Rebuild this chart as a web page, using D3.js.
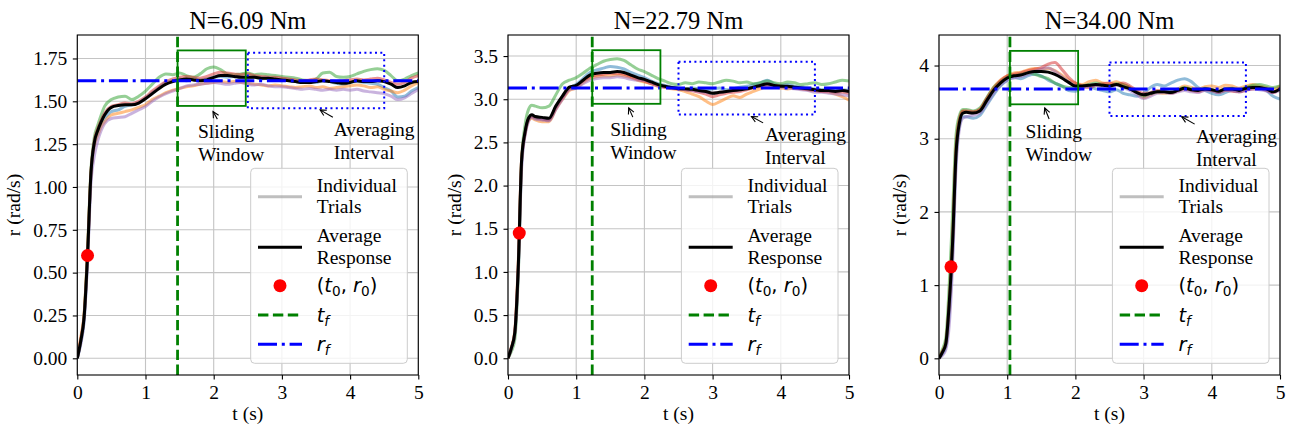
<!DOCTYPE html>
<meta charset="utf-8">
<style>
body { margin: 0; background: #fff; }
svg text { font-family: "Liberation Serif", "Times New Roman", serif; fill: #000; }
.math { font-family: "DejaVu Sans", sans-serif; }
</style>
<svg width="1290" height="430"></svg>
<script src="https://d3js.org/d3.v7.min.js"></script>
<script>

// time grid shared by every trace (s)
var T = [0, 0.05, 0.1, 0.15, 0.2, 0.25, 0.3, 0.35, 0.4,
  0.5, 0.6, 0.7, 0.8, 0.9, 1.0, 1.1, 1.2, 1.3, 1.4,
  1.5, 1.6, 1.7, 1.8, 1.9, 2.0, 2.1, 2.2, 2.3, 2.4,
  2.5, 2.6, 2.7, 2.8, 2.9, 3.0, 3.1, 3.2, 3.3, 3.4,
  3.5, 3.6, 3.7, 3.8, 3.9, 4.0, 4.1, 4.2, 4.3, 4.4,
  4.5, 4.6, 4.7, 4.8, 4.9, 5.0];

// N = 6.09 Nm
var p1_avg = [0.00, 0.10, 0.24, 0.60, 1.08, 1.26, 1.33, 1.38, 1.42,
  1.465, 1.475, 1.48, 1.48, 1.49, 1.515, 1.545, 1.575, 1.60, 1.615,
  1.625, 1.63, 1.625, 1.62, 1.625, 1.64, 1.65, 1.65, 1.645, 1.64,
  1.64, 1.64, 1.635, 1.635, 1.63, 1.625, 1.62, 1.615, 1.61, 1.61,
  1.615, 1.62, 1.615, 1.61, 1.605, 1.61, 1.62, 1.615, 1.615, 1.62,
  1.615, 1.60, 1.58, 1.59, 1.61, 1.615];
var p1_blue = [0.00, 0.09, 0.22, 0.58, 1.06, 1.25, 1.32, 1.37, 1.40,
  1.44, 1.45, 1.47, 1.48, 1.49, 1.52, 1.55, 1.58, 1.61, 1.62,
  1.63, 1.62, 1.63, 1.625, 1.63, 1.64, 1.645, 1.64, 1.645, 1.64,
  1.635, 1.64, 1.63, 1.635, 1.625, 1.62, 1.625, 1.615, 1.61, 1.615,
  1.61, 1.62, 1.615, 1.605, 1.60, 1.61, 1.615, 1.61, 1.605, 1.60,
  1.58, 1.56, 1.525, 1.53, 1.56, 1.58];
var p1_orange = [0.01, 0.12, 0.26, 0.62, 1.08, 1.24, 1.30, 1.35, 1.38,
  1.42, 1.43, 1.44, 1.45, 1.465, 1.48, 1.51, 1.53, 1.55, 1.565,
  1.575, 1.585, 1.59, 1.60, 1.605, 1.61, 1.615, 1.61, 1.615, 1.61,
  1.605, 1.60, 1.595, 1.59, 1.595, 1.59, 1.585, 1.58, 1.585, 1.59,
  1.58, 1.585, 1.575, 1.58, 1.585, 1.59, 1.595, 1.59, 1.58, 1.585,
  1.57, 1.56, 1.55, 1.565, 1.59, 1.61];
var p1_green = [0.00, 0.10, 0.25, 0.63, 1.10, 1.29, 1.36, 1.42, 1.47,
  1.51, 1.525, 1.53, 1.51, 1.53, 1.56, 1.60, 1.64, 1.66, 1.655,
  1.665, 1.65, 1.64, 1.66, 1.69, 1.70, 1.685, 1.66, 1.655, 1.66,
  1.665, 1.655, 1.66, 1.655, 1.65, 1.645, 1.64, 1.635, 1.625, 1.62,
  1.63, 1.665, 1.67, 1.645, 1.64, 1.645, 1.66, 1.675, 1.685, 1.69,
  1.68, 1.65, 1.62, 1.63, 1.65, 1.665];
var p1_red = [0.00, 0.11, 0.25, 0.61, 1.08, 1.27, 1.34, 1.39, 1.43,
  1.47, 1.48, 1.49, 1.485, 1.50, 1.525, 1.56, 1.59, 1.615, 1.63,
  1.64, 1.645, 1.64, 1.635, 1.645, 1.66, 1.67, 1.665, 1.66, 1.655,
  1.66, 1.65, 1.645, 1.64, 1.64, 1.635, 1.63, 1.625, 1.62, 1.625,
  1.63, 1.625, 1.62, 1.615, 1.62, 1.625, 1.63, 1.625, 1.63, 1.635,
  1.625, 1.61, 1.60, 1.61, 1.635, 1.65];
var p1_purple = [0.00, 0.08, 0.22, 0.56, 1.02, 1.18, 1.27, 1.33, 1.37,
  1.40, 1.405, 1.41, 1.43, 1.45, 1.47, 1.50, 1.525, 1.545, 1.56,
  1.575, 1.59, 1.595, 1.60, 1.605, 1.61, 1.605, 1.60, 1.605, 1.61,
  1.60, 1.595, 1.60, 1.59, 1.585, 1.585, 1.58, 1.575, 1.57, 1.575,
  1.57, 1.565, 1.57, 1.565, 1.57, 1.565, 1.57, 1.56, 1.555, 1.55,
  1.545, 1.53, 1.51, 1.52, 1.545, 1.57];

// N = 22.79 Nm
var p2_avg = [0.00, 0.12, 0.30, 1.05, 2.30, 2.62, 2.78, 2.82, 2.80,
  2.79, 2.78, 2.92, 3.04, 3.14, 3.16, 3.22, 3.28, 3.30, 3.31,
  3.31, 3.32, 3.31, 3.28, 3.25, 3.23, 3.20, 3.17, 3.15, 3.135,
  3.125, 3.12, 3.115, 3.10, 3.09, 3.07, 3.08, 3.09, 3.10, 3.11,
  3.12, 3.14, 3.16, 3.18, 3.16, 3.15, 3.15, 3.14, 3.13, 3.12,
  3.11, 3.10, 3.10, 3.09, 3.10, 3.09];
var p2_blue = [0.00, 0.12, 0.28, 1.00, 2.25, 2.60, 2.76, 2.80, 2.78,
  2.77, 2.76, 2.90, 3.03, 3.13, 3.17, 3.24, 3.31, 3.34, 3.36,
  3.38, 3.37, 3.35, 3.31, 3.28, 3.25, 3.21, 3.18, 3.16, 3.14,
  3.13, 3.12, 3.13, 3.12, 3.11, 3.12, 3.13, 3.11, 3.12, 3.14,
  3.15, 3.17, 3.19, 3.22, 3.18, 3.16, 3.17, 3.15, 3.14, 3.13,
  3.12, 3.11, 3.12, 3.10, 3.11, 3.10];
var p2_orange = [0.00, 0.13, 0.32, 1.10, 2.30, 2.60, 2.75, 2.78, 2.76,
  2.74, 2.74, 2.88, 3.00, 3.10, 3.13, 3.19, 3.24, 3.26, 3.27,
  3.27, 3.28, 3.27, 3.25, 3.22, 3.20, 3.18, 3.16, 3.14, 3.12,
  3.11, 3.09, 3.06, 3.03, 2.98, 2.94, 2.97, 3.01, 3.04, 3.02,
  3.06, 3.09, 3.12, 3.15, 3.14, 3.13, 3.12, 3.13, 3.12, 3.11,
  3.10, 3.09, 3.08, 3.06, 3.03, 2.99];
var p2_green = [0.00, 0.08, 0.22, 0.95, 2.30, 2.70, 2.88, 2.93, 2.92,
  2.90, 2.92, 3.05, 3.18, 3.22, 3.25, 3.30, 3.36, 3.40, 3.44,
  3.46, 3.47, 3.45, 3.40, 3.35, 3.32, 3.28, 3.24, 3.21, 3.18,
  3.17, 3.19, 3.18, 3.20, 3.19, 3.18, 3.20, 3.22, 3.21, 3.19,
  3.20, 3.18, 3.19, 3.21, 3.19, 3.18, 3.20, 3.19, 3.17, 3.18,
  3.19, 3.17, 3.18, 3.20, 3.22, 3.21];
var p2_red = [0.00, 0.12, 0.30, 1.05, 2.30, 2.60, 2.77, 2.80, 2.79,
  2.77, 2.76, 2.90, 3.02, 3.12, 3.15, 3.21, 3.26, 3.28, 3.29,
  3.30, 3.30, 3.29, 3.26, 3.23, 3.21, 3.18, 3.15, 3.14, 3.13,
  3.12, 3.11, 3.10, 3.08, 3.06, 3.03, 3.05, 3.07, 3.08, 3.09,
  3.11, 3.13, 3.15, 3.17, 3.16, 3.15, 3.14, 3.13, 3.12, 3.11,
  3.10, 3.09, 3.09, 3.08, 3.08, 3.07];
var p2_purple = [0.00, 0.11, 0.28, 1.00, 2.20, 2.58, 2.74, 2.79, 2.77,
  2.76, 2.75, 2.88, 3.00, 3.11, 3.13, 3.18, 3.22, 3.24, 3.25,
  3.25, 3.26, 3.25, 3.23, 3.22, 3.22, 3.19, 3.16, 3.14, 3.13,
  3.12, 3.11, 3.10, 3.09, 3.08, 3.07, 3.08, 3.09, 3.10, 3.11,
  3.12, 3.14, 3.15, 3.16, 3.15, 3.14, 3.13, 3.12, 3.11, 3.10,
  3.08, 3.08, 3.07, 3.06, 3.05, 3.04];

// N = 34.00 Nm
var p3_avg = [0.00, 0.08, 0.20, 0.75, 1.60, 2.80, 3.22, 3.35, 3.36,
  3.35, 3.38, 3.52, 3.66, 3.76, 3.83, 3.86, 3.87, 3.90, 3.92,
  3.92, 3.91, 3.88, 3.83, 3.77, 3.72, 3.72, 3.73, 3.74, 3.73,
  3.72, 3.74, 3.71, 3.68, 3.63, 3.60, 3.62, 3.64, 3.64, 3.63,
  3.66, 3.69, 3.67, 3.66, 3.68, 3.67, 3.65, 3.68, 3.68, 3.66,
  3.69, 3.70, 3.70, 3.68, 3.64, 3.68];
var p3_blue = [0.00, 0.06, 0.16, 0.60, 1.45, 2.70, 3.18, 3.30, 3.30,
  3.28, 3.32, 3.46, 3.60, 3.72, 3.80, 3.84, 3.82, 3.86, 3.88,
  3.86, 3.80, 3.76, 3.72, 3.66, 3.65, 3.70, 3.72, 3.68, 3.66,
  3.64, 3.67, 3.62, 3.60, 3.58, 3.62, 3.70, 3.74, 3.72, 3.76,
  3.80, 3.82, 3.78, 3.70, 3.66, 3.62, 3.60, 3.63, 3.66, 3.64,
  3.68, 3.72, 3.70, 3.66, 3.58, 3.54];
var p3_orange = [0.00, 0.10, 0.22, 0.80, 1.70, 2.90, 3.28, 3.38, 3.37,
  3.36, 3.40, 3.55, 3.70, 3.80, 3.86, 3.90, 3.91, 3.94, 3.96,
  3.95, 3.96, 3.93, 3.87, 3.80, 3.76, 3.74, 3.78, 3.80, 3.76,
  3.75, 3.78, 3.74, 3.70, 3.64, 3.56, 3.60, 3.63, 3.62, 3.64,
  3.68, 3.72, 3.70, 3.68, 3.71, 3.72, 3.70, 3.73, 3.72, 3.69,
  3.72, 3.74, 3.72, 3.70, 3.68, 3.72];
var p3_green = [0.00, 0.12, 0.28, 1.00, 2.00, 3.05, 3.32, 3.40, 3.40,
  3.38, 3.42, 3.56, 3.70, 3.78, 3.84, 3.86, 3.88, 3.90, 3.88,
  3.85, 3.82, 3.76, 3.72, 3.70, 3.70, 3.72, 3.74, 3.76, 3.74,
  3.72, 3.75, 3.74, 3.70, 3.64, 3.58, 3.62, 3.64, 3.66, 3.64,
  3.67, 3.70, 3.68, 3.66, 3.69, 3.66, 3.64, 3.67, 3.69, 3.67,
  3.70, 3.73, 3.74, 3.72, 3.70, 3.72];
var p3_red = [0.00, 0.09, 0.20, 0.72, 1.60, 2.85, 3.26, 3.38, 3.38,
  3.37, 3.40, 3.55, 3.68, 3.79, 3.86, 3.88, 3.90, 3.93, 3.95,
  3.97, 4.02, 4.04, 3.95, 3.84, 3.76, 3.72, 3.70, 3.73, 3.75,
  3.76, 3.74, 3.76, 3.72, 3.66, 3.62, 3.63, 3.66, 3.65, 3.62,
  3.65, 3.68, 3.66, 3.64, 3.67, 3.66, 3.63, 3.66, 3.65, 3.64,
  3.66, 3.68, 3.69, 3.66, 3.63, 3.70];
var p3_purple = [0.00, 0.04, 0.12, 0.45, 1.30, 2.60, 3.14, 3.28, 3.30,
  3.32, 3.35, 3.48, 3.62, 3.73, 3.80, 3.83, 3.85, 3.88, 3.92,
  3.95, 3.97, 3.92, 3.85, 3.78, 3.72, 3.70, 3.72, 3.73, 3.70,
  3.71, 3.73, 3.70, 3.66, 3.60, 3.55, 3.58, 3.62, 3.63, 3.62,
  3.64, 3.66, 3.64, 3.63, 3.66, 3.65, 3.63, 3.66, 3.66, 3.64,
  3.67, 3.68, 3.67, 3.65, 3.63, 3.66];

var titles = ["N=6.09 Nm", "N=22.79 Nm", "N=34.00 Nm"];
var x_ticks = [0, 1, 2, 3, 4, 5];
var y_ticks = [[0, 0.25, 0.5, 0.75, 1.0, 1.25, 1.5, 1.75],
               [0, 0.5, 1.0, 1.5, 2.0, 2.5, 3.0, 3.5],
               [0, 1, 2, 3, 4]];
var y_formats = [".2f", ".1f", "d"];
var y_limits = [[-0.0975, 1.887], [-0.194, 3.744], [-0.228, 4.417]];

var t_f = [1.47, 1.235, 1.04];          // settling time
var r_f = [1.62, 3.13, 3.68];           // final rate
var t_0 = [0.15, 0.165, 0.176];
var r_0 = [0.60, 1.45, 1.25];
var window_low = [1.473, 2.947, 3.47];  // sliding window box, rad/s
var window_high = [1.797, 3.568, 4.20];
var interval_t = [2.5, 4.5];             // averaging interval, s
var interval_low = [1.459, 2.822, 3.31];
var interval_high = [1.784, 3.434, 4.04];

// annotation text (left, first baseline) and arrow tip, data coords
var sliding_text = [[1.77, 1.285], [1.50, 2.573], [1.27, 3.01]];
var sliding_tip = [[1.99, 1.44], [1.77, 2.90], [1.55, 3.42]];
var averaging_text = [[3.76, 1.296], [3.77, 2.515], [3.77, 2.94]];
var averaging_tip = [[3.56, 1.45], [3.57, 2.80], [3.56, 3.30]];

var trial_sets = [
  [p1_blue, p1_orange, p1_green, p1_red, p1_purple],
  [p2_blue, p2_orange, p2_green, p2_red, p2_purple],
  [p3_blue, p3_orange, p3_green, p3_red, p3_purple]
];
var averages = [p1_avg, p2_avg, p3_avg];

var trial_colours = ["#1f77b4", "#ff7f0e", "#2ca02c", "#d62728", "#9467bd"];

var svg = d3.select("svg");
var panel_left = [77.3, 508, 939];
var panel_width = 341;
var plot_top = 35, plot_bottom = 375;
var fs = 19.5;
var tick_len = 4.5, tick_pad = 5.5;

var tf_dash = "10.4,4.5";
var rf_dash = "19,4.8,3,4.8";

// writes a little mathtext label: parts are [string, italic?, subscript?]
function mathLabel(sel, parts) {
  var shifted = false;
  parts.forEach(function(p) {
    var ts = sel.append("tspan").text(p[0]);
    if (p[1]) ts.style("font-style", "italic");
    if (p[2] && !shifted) { ts.attr("dy", 4).style("font-size", (fs * 0.7) + "px"); shifted = true; }
    else if (!p[2] && shifted) { ts.attr("dy", -4); shifted = false; }
    else if (p[2]) ts.style("font-size", (fs * 0.7) + "px");
  });
}

// annotate with an arrow that starts on the text box edge, like matplotlib
function annotate(g, x, y, lines, textPos, tip) {
  var tx = x(textPos[0]), ty = y(textPos[1]);
  var txt = g.append("text").attr("x", tx).attr("y", ty).style("font-size", fs + "px");
  lines.forEach(function(l, k) {
    txt.append("tspan").attr("x", tx).attr("dy", k == 0 ? 0 : 23).text(l);
  });
  var b = txt.node().getBBox();
  var pad = 2;
  var bx = b.x - pad, by = b.y - pad, bw = b.width + 2 * pad, bh = b.height + 2 * pad;
  var cx = b.x + b.width / 2, cy = b.y + b.height / 2;
  var hx = x(tip[0]), hy = y(tip[1]);
  var dx = hx - cx, dy = hy - cy;
  var tX = dx > 0 ? (bx + bw - cx) / dx : (bx - cx) / dx;
  var tY = dy > 0 ? (by + bh - cy) / dy : (by - cy) / dy;
  var t = Math.min(tX, tY);
  var sx = cx + t * dx, sy = cy + t * dy;
  var len = Math.sqrt((hx - sx) * (hx - sx) + (hy - sy) * (hy - sy));
  var ux = (hx - sx) / len, uy = (hy - sy) / len;
  var hl = 6, hw = 3;
  g.append("line").attr("x1", sx).attr("y1", sy).attr("x2", hx).attr("y2", hy)
    .style("stroke", "black").style("stroke-width", 1.1);
  g.append("path")
    .attr("d", "M" + (hx - hl * ux + hw * uy) + "," + (hy - hl * uy - hw * ux) +
               "L" + hx + "," + hy +
               "L" + (hx - hl * ux - hw * uy) + "," + (hy - hl * uy + hw * ux))
    .style("fill", "none").style("stroke", "black").style("stroke-width", 1.1);
}

function drawLegend(g, right) {
  var w = 156.6, h = 195;
  var L = right - 11 - w, Tp = plot_bottom - 11.7 - h;
  g.append("rect").attr("x", L).attr("y", Tp).attr("width", w).attr("height", h)
    .attr("rx", 4).attr("ry", 4)
    .style("fill", "white").style("fill-opacity", 0.8)
    .style("stroke", "#cccccc").style("stroke-width", 1);
  var hx1 = L + 7.3, hx2 = L + 51.3, textX = L + 66;
  var rows = [28.4, 79, 117.4, 146.7, 176];

  g.append("line").attr("x1", hx1).attr("x2", hx2).attr("y1", Tp + rows[0]).attr("y2", Tp + rows[0])
    .style("stroke", "gray").style("stroke-opacity", 0.5).style("stroke-width", 3);
  g.append("line").attr("x1", hx1).attr("x2", hx2).attr("y1", Tp + rows[1]).attr("y2", Tp + rows[1])
    .style("stroke", "black").style("stroke-width", 3);
  g.append("circle").attr("cx", (hx1 + hx2) / 2).attr("cy", Tp + rows[2]).attr("r", 6.5)
    .style("fill", "red");
  g.append("line").attr("x1", hx1).attr("x2", hx2).attr("y1", Tp + rows[3]).attr("y2", Tp + rows[3])
    .style("stroke", "green").style("stroke-width", 2.8).style("stroke-dasharray", tf_dash);
  g.append("line").attr("x1", hx1).attr("x2", hx2).attr("y1", Tp + rows[4]).attr("y2", Tp + rows[4])
    .style("stroke", "blue").style("stroke-width", 3).style("stroke-dasharray", rf_dash);

  [["Individual", "Trials"], ["Average", "Response"]].forEach(function(lab, k) {
    var yy = Tp + rows[k];
    g.append("text").attr("x", textX).attr("y", yy - 5.1).style("font-size", fs + "px").text(lab[0]);
    g.append("text").attr("x", textX).attr("y", yy + 16.6).style("font-size", fs + "px").text(lab[1]);
  });
  var m1 = g.append("text").attr("class", "math").attr("x", textX).attr("y", Tp + rows[2] + 6.5)
    .style("font-size", fs + "px");
  mathLabel(m1, [["(", 0, 0], ["t", 1, 0], ["0", 0, 1], [", ", 0, 0], ["r", 1, 0], ["0", 0, 1], [")", 0, 0]]);
  var m2 = g.append("text").attr("class", "math").attr("x", textX).attr("y", Tp + rows[3] + 6.5)
    .style("font-size", fs + "px");
  mathLabel(m2, [["t", 1, 0], ["f", 1, 1]]);
  var m3 = g.append("text").attr("class", "math").attr("x", textX).attr("y", Tp + rows[4] + 6.5)
    .style("font-size", fs + "px");
  mathLabel(m3, [["r", 1, 0], ["f", 1, 1]]);
}

function drawPanel(i) {
  var left = panel_left[i], right = left + panel_width;
  var x = d3.scaleLinear().domain([0, 5]).range([left, right]);
  var y = d3.scaleLinear().domain(y_limits[i]).range([plot_bottom, plot_top]);
  var g = svg.append("g");

  svg.append("clipPath").attr("id", "clip" + i).append("rect")
    .attr("x", left).attr("y", plot_top).attr("width", panel_width).attr("height", plot_bottom - plot_top);

  // grid
  g.append("g").selectAll("line").data(x_ticks).enter().append("line")
    .attr("x1", function(d) { return x(d); }).attr("x2", function(d) { return x(d); })
    .attr("y1", plot_top).attr("y2", plot_bottom)
    .style("stroke", "#c4c4c4").style("stroke-width", 1.1);
  g.append("g").selectAll("line").data(y_ticks[i]).enter().append("line")
    .attr("y1", function(d) { return y(d); }).attr("y2", function(d) { return y(d); })
    .attr("x1", left).attr("x2", right)
    .style("stroke", "#c4c4c4").style("stroke-width", 1.1);

  var plot = g.append("g").attr("clip-path", "url(#clip" + i + ")");
  var line = d3.line().x(function(d, k) { return x(T[k]); }).y(function(d) { return y(d); })
    .curve(d3.curveMonotoneX);

  trial_sets[i].forEach(function(tr, k) {
    plot.append("path").attr("d", line(tr))
      .style("fill", "none").style("stroke", trial_colours[k])
      .style("stroke-opacity", 0.5).style("stroke-width", 3);
  });
  plot.append("path").attr("d", line(averages[i]))
    .style("fill", "none").style("stroke", "black").style("stroke-width", 3);

  // t_f and r_f
  plot.append("line").attr("x1", x(t_f[i])).attr("x2", x(t_f[i]))
    .attr("y1", plot_bottom).attr("y2", plot_top)
    .style("stroke", "green").style("stroke-width", 2.8).style("stroke-dasharray", tf_dash);
  plot.append("line").attr("x1", left).attr("x2", right)
    .attr("y1", y(r_f[i])).attr("y2", y(r_f[i]))
    .style("stroke", "blue").style("stroke-width", 3).style("stroke-dasharray", rf_dash);

  // sliding window and averaging interval boxes
  plot.append("rect").attr("x", x(t_f[i])).attr("y", y(window_high[i]))
    .attr("width", x(t_f[i] + 1) - x(t_f[i])).attr("height", y(window_low[i]) - y(window_high[i]))
    .style("fill", "none").style("stroke", "green").style("stroke-width", 1.8);
  plot.append("rect").attr("x", x(interval_t[0])).attr("y", y(interval_high[i]))
    .attr("width", x(interval_t[1]) - x(interval_t[0])).attr("height", y(interval_low[i]) - y(interval_high[i]))
    .style("fill", "none").style("stroke", "blue").style("stroke-width", 2)
    .style("stroke-dasharray", "2,3.3");

  plot.append("circle").attr("cx", x(t_0[i])).attr("cy", y(r_0[i])).attr("r", 6.5).style("fill", "red");

  annotate(g, x, y, ["Sliding", "Window"], sliding_text[i], sliding_tip[i]);
  annotate(g, x, y, ["Averaging", "Interval"], averaging_text[i], averaging_tip[i]);

  drawLegend(g, right);

  // frame
  g.append("rect").attr("x", left).attr("y", plot_top).attr("width", panel_width)
    .attr("height", plot_bottom - plot_top)
    .style("fill", "none").style("stroke", "black").style("stroke-width", 1.1);

  // axes
  var xAxis = g.append("g").attr("transform", "translate(0," + plot_bottom + ")")
    .call(d3.axisBottom(x).tickValues(x_ticks).tickFormat(d3.format("d"))
      .tickSize(tick_len).tickPadding(tick_pad));
  var yAxis = g.append("g").attr("transform", "translate(" + left + ",0)")
    .call(d3.axisLeft(y).tickValues(y_ticks[i]).tickFormat(d3.format(y_formats[i]))
      .tickSize(tick_len).tickPadding(tick_pad));
  [xAxis, yAxis].forEach(function(a) {
    a.select(".domain").remove();
    a.selectAll(".tick line").style("stroke", "black").style("stroke-width", 1.1);
    a.selectAll(".tick text").style("font-size", fs + "px")
      .style("font-family", "'Liberation Serif', 'Times New Roman', serif").style("fill", "black");
  });

  // y label goes left of the widest tick label
  var minX = right;
  yAxis.selectAll(".tick text").each(function() {
    var bb = this.getBBox();
    minX = Math.min(minX, left + bb.x);
  });
  var lx = minX - 13, ly = (plot_top + plot_bottom) / 2;
  g.append("text").attr("transform", "translate(" + lx + "," + ly + ") rotate(-90)")
    .attr("text-anchor", "middle").style("font-size", fs + "px").text("r (rad/s)");

  g.append("text").attr("x", (left + right) / 2).attr("y", 420)
    .attr("text-anchor", "middle").style("font-size", fs + "px").text("t (s)");

  g.append("text").attr("x", (left + right) / 2).attr("y", 28.5)
    .attr("text-anchor", "middle").style("font-size", "24.5px").text(titles[i]);
}

for (var i = 0; i < 3; i++) drawPanel(i);

</script>
